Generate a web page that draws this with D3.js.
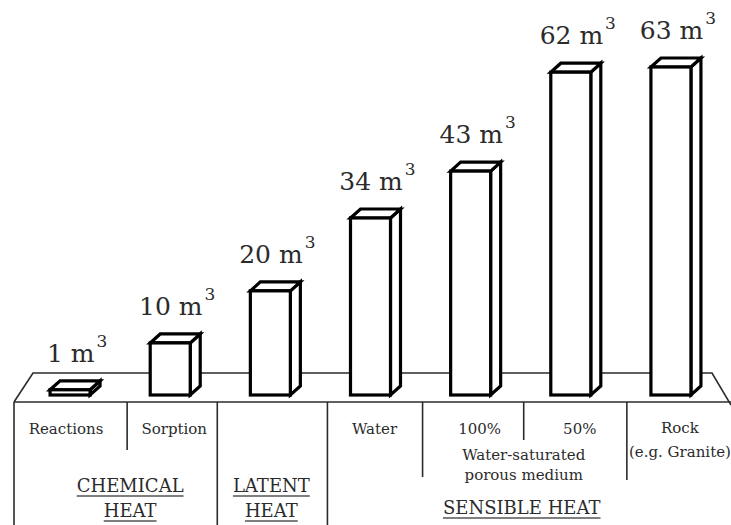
<!DOCTYPE html>
<html><head><meta charset="utf-8">
<script src="https://cdn.jsdelivr.net/npm/d3@7"></script>
<style>
html,body{margin:0;padding:0;background:#fff;}
svg{display:block;font-family:"DejaVu Serif",serif;}
</style></head>
<body>
<svg id="c" width="731" height="525"></svg>
<script>
const categories = ["Reactions","Sorption","Latent","Water","100%","50%","Rock"];
const volumes = [1, 10, 20, 34, 43, 62, 63];
const valueLabels = ["1 m","10 m","20 m","34 m","43 m","62 m","63 m"];
const subLabels = [["Reactions"],["Sorption"],[],["Water"],["100%"],["50%"],["Rock","(e.g. Granite)"]];
const groups = [
  {name:["CHEMICAL","HEAT"], from:0, to:1},
  {name:["LATENT","HEAT"], from:2, to:2},
  {name:["SENSIBLE HEAT"], from:3, to:6}
];
const sharedNote = ["Water-saturated","porous medium"];

const svg = d3.select("#c");
const W = 731, H = 525;
const baseY = 395, platTop = 373, platBot = 402;
const dx = 10, dy = 9, bw = 40;
const ink = "#2b2b2b";

const x = d3.scaleBand().domain(categories).range([20, 721]).padding(0);
const y = d3.scaleLinear().domain([0, 63]).range([baseY, 67]);

// platform
const plat = svg.append("g").attr("stroke", ink).attr("stroke-width", 1.6).attr("fill","none");
plat.append("path").attr("d", `M14,${platBot} L33,${platTop} L712,${platTop} L731,${platBot + 3}`);
plat.append("line").attr("x1",14).attr("x2",731).attr("y1",platBot).attr("y2",platBot);

// table dividers
const tbl = svg.append("g").attr("stroke", ink).attr("stroke-width", 1.6);
tbl.append("line").attr("x1",14).attr("x2",14).attr("y1",platBot).attr("y2",H);
const dividerEnds = [450, H, H, 477, 440, 480];
const dividerShift = [7, -3, 7, 2, 3, 6];
categories.slice(1).forEach((c,i)=>{
  const xx = x(c) + dividerShift[i];
  tbl.append("line").attr("x1",xx).attr("x2",xx).attr("y1",platBot).attr("y2",dividerEnds[i]);
});

// bars
const bars = svg.append("g").attr("fill","#fff").attr("stroke","#000").attr("stroke-width",3.2).attr("stroke-linejoin","miter");
categories.forEach((c,i)=>{
  const cx = x(c) + x.bandwidth()/2;
  const x0 = cx - bw/2, x1 = cx + bw/2;
  const t = y(volumes[i]);
  const g = bars.append("g");
  g.append("path").attr("d", `M${x1},${t} L${x1+dx},${t-dy} L${x1+dx},${baseY-dy} L${x1},${baseY} Z`);
  g.append("path").attr("d", `M${x0},${t} L${x0+dx},${t-dy} L${x1+dx},${t-dy} L${x1},${t} Z`);
  g.append("rect").attr("x",x0).attr("y",t).attr("width",bw).attr("height",baseY-t);
  // value label
  const tx = svg.append("text").attr("x", cx+7).attr("y", t - dy - 19)
    .attr("text-anchor","middle").attr("fill", ink).attr("font-size",25)
    .text(valueLabels[i]);
  tx.append("tspan").attr("dy",-15).attr("dx",2).attr("font-size",17).text("3");
});

// sub labels
const subShift = [-4, 4, 0, 4, 9, 9, 9];
categories.forEach((c,i)=>{
  const cx = x(c) + x.bandwidth()/2 + subShift[i];
  subLabels[i].forEach((s,j)=>{
    svg.append("text").attr("x",cx).attr("y", 434 + j*24 - (i===6?1:0))
      .attr("text-anchor","middle").attr("fill",ink).attr("font-size",15).text(s);
  });
});
// shared note under 100% / 50%
const noteX = x(categories[5]) + 3;
sharedNote.forEach((s,j)=>{
  svg.append("text").attr("x",noteX).attr("y",460 + j*20)
    .attr("text-anchor","middle").attr("fill",ink).attr("font-size",15).text(s);
});

// group labels
groups.forEach((g,gi)=>{
  const a = x(categories[g.from]);
  const b = x(categories[g.to]) + x.bandwidth();
  const cx = (a+b)/2 + (gi===0?10:(gi===2?1:1));
  const n = g.name.length;
  g.name.forEach((s,j)=>{
    const by = n===1 ? 514 : 492 + j*25;
    const t = svg.append("text").attr("x",cx).attr("y",by)
      .attr("text-anchor","middle").attr("fill",ink).attr("font-size",18).text(s);
    const w = t.node().getComputedTextLength();
    svg.append("line").attr("x1",cx-w/2).attr("x2",cx+w/2).attr("y1",by+4).attr("y2",by+4)
      .attr("stroke","#555").attr("stroke-width",1.5);
  });
});
</script>
</body></html>
